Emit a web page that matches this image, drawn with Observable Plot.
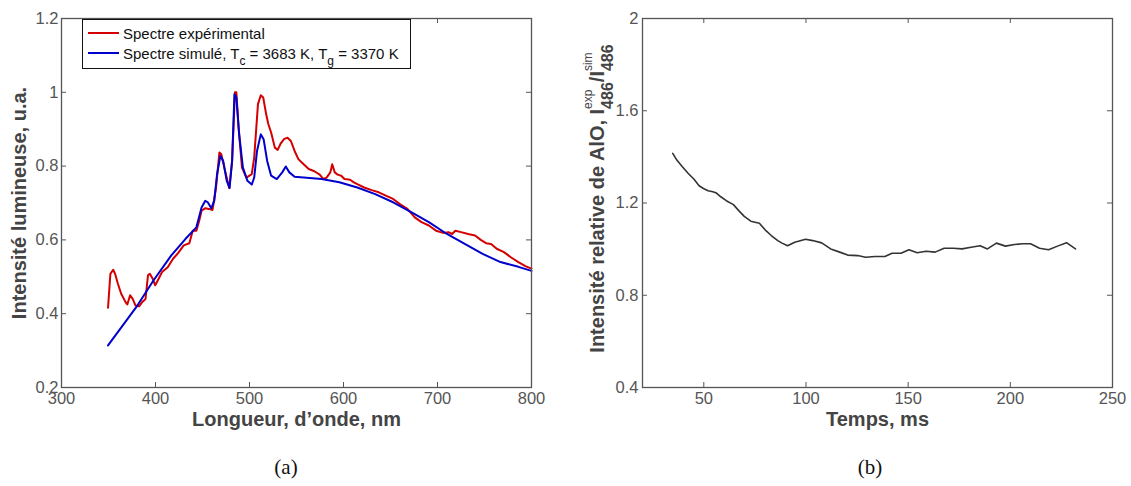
<!DOCTYPE html>
<html>
<head>
<meta charset="utf-8">
<script src="https://cdn.jsdelivr.net/npm/d3@7"></script>
<script src="https://cdn.jsdelivr.net/npm/@observablehq/plot@0.6"></script>
<style>
  html, body { margin: 0; padding: 0; background: #fff; }
  #wrap { position: relative; width: 1131px; height: 486px; background: #fff; overflow: hidden; }
  .panel { position: absolute; top: 0; }
  .cap { position: absolute; top: 455px; font-family: "Liberation Serif", "DejaVu Serif", serif; font-size: 21px; color: #111; transform: translateX(-50%); }
  #legend { position: absolute; left: 82px; top: 19px; width: 327px; height: 48px; border: 1.5px solid #111; background: #fff;
            font-family: "Liberation Sans", Arial, sans-serif; font-size: 15px; color: #111; }
  .lrow { position: absolute; left: 0; height: 20px; display: flex; align-items: center; white-space: nowrap; }
  .lsw { display: inline-block; width: 31px; height: 2px; margin-left: 5px; margin-right: 4px; }
  .lrow sub { font-size: 12px; vertical-align: -6px; line-height: 0; }
</style>
</head>
<body>
<div id="wrap">
  <div id="pa" class="panel" style="left:0px"></div>
  <div id="pb" class="panel" style="left:565px"></div>
  <div id="legend"></div>
  <div class="cap" style="left:286px">(a)</div>
  <div class="cap" style="left:870px">(b)</div>
</div>
<script>
// ---------- Panel (a) data ----------
const expWavelength = [349.5,352,355,357,360,363.5,368,370,373,375.7,378.8,382.6,386,389.4,392,394,397,399.7,402.4,407,413,418.7,424,430,436,439.6,443.5,446.5,449,453,456.8,460.6,464.4,468,470,474,478.5,481.5,484.5,486,488.4,492,496.7,502.4,505,509,512,514.6,517.7,520,523,527,530,532.9,536.7,540.5,544,548,552,557.6,563,569,574.7,578.6,582,586,588,590.7,593.8,597.6,601,607,611,614.7,622,630,637.5,645,652.8,660,668,675.8,683,690.8,698.4,706,711.7,715.5,719,725,732.6,740,746,751.7,757,763,770.7,778,786,793.5,800];
const expIntensity = [0.416,0.508,0.519,0.508,0.481,0.454,0.432,0.425,0.45,0.44,0.422,0.42,0.432,0.44,0.504,0.508,0.495,0.477,0.49,0.513,0.526,0.549,0.564,0.585,0.591,0.625,0.625,0.652,0.679,0.686,0.684,0.681,0.742,0.837,0.832,0.787,0.74,0.814,1.0,1.0,0.905,0.796,0.769,0.778,0.823,0.968,0.992,0.986,0.941,0.914,0.891,0.85,0.844,0.86,0.873,0.877,0.868,0.841,0.819,0.805,0.792,0.786,0.777,0.765,0.769,0.783,0.805,0.783,0.777,0.774,0.765,0.763,0.756,0.751,0.742,0.735,0.729,0.72,0.711,0.697,0.684,0.661,0.648,0.639,0.625,0.619,0.621,0.616,0.625,0.621,0.616,0.612,0.6,0.591,0.589,0.576,0.567,0.553,0.54,0.529,0.522];
const simWavelength = [349.5,380.7,397.8,416.8,432,443.5,449,453,455.6,459.4,462.5,465.5,469,472,475.8,478.8,481.5,484,486,489,493,497.8,502.4,505,508,512,515,518.8,523,529,534.8,538.6,542.4,548,557.6,576.6,595.6,614.7,633.7,652.8,672,690.8,710,729,748,767,786,800];
const simIntensity = [0.314,0.422,0.49,0.558,0.603,0.634,0.688,0.706,0.702,0.686,0.706,0.778,0.828,0.814,0.76,0.741,0.814,0.995,0.986,0.886,0.796,0.76,0.75,0.769,0.841,0.886,0.873,0.814,0.774,0.765,0.783,0.799,0.783,0.771,0.769,0.765,0.756,0.742,0.724,0.702,0.675,0.648,0.616,0.589,0.562,0.54,0.527,0.516];
const seriesNames = ["Spectre expérimental", "Spectre simulé, T<sub>c</sub> = 3683 K, T<sub>g</sub> = 3370 K"];
const seriesColors = ["#d40000", "#0000cc"];
const xTicksA = [300,400,500,600,700,800];
const yTicksA = [0.2,0.4,0.6,0.8,1,1.2];
const xLabelA = "Longueur, d’onde, nm";
const yLabelA = "Intensité lumineuse, u.a.";

// ---------- Panel (b) data ----------
const time = [34.8,36.8,39.3,42.4,45.1,47.7,49.8,52.1,54.4,56.2,58.3,61,64.5,67.1,69.8,73,77.2,80.4,83,86.2,88.3,91,94.5,99.8,103.3,107.7,112.1,116.5,120.4,125.3,129.2,133.8,138.6,142.1,146.5,150.4,154.4,158.8,163.2,167.6,172,176.4,180.8,185.2,188.8,193.2,197.6,202,206,209.9,214.3,218.7,223.1,227.5,231.9];
const ratio = [1.415,1.386,1.359,1.328,1.304,1.275,1.263,1.253,1.249,1.243,1.227,1.21,1.193,1.167,1.142,1.121,1.112,1.08,1.059,1.037,1.026,1.015,1.03,1.043,1.037,1.027,1.001,0.987,0.974,0.972,0.965,0.968,0.968,0.982,0.982,0.997,0.984,0.991,0.987,1.004,1.004,1.001,1.008,1.015,1.001,1.026,1.013,1.02,1.023,1.023,1.004,0.997,1.013,1.028,1.001];
const xTicksB = [50,100,150,200,250];
const yTicksB = [0.4,0.8,1.2,1.6,2];
const xLabelB = "Temps, ms";

// ---------- common styles ----------
const font = "'Liberation Sans', Arial, Helvetica, sans-serif";
const axisColor = "#555";
const labelColor = "#444";
const fmt = d3.format("~g");

function boxTicks(xt, yt, innerW, innerH) {
  const t = 5;
  return [
    Plot.tickX(xt, {x: d => d, insetTop: innerH - t, stroke: axisColor, strokeWidth: 1}),
    Plot.tickX(xt, {x: d => d, insetBottom: innerH - t, stroke: axisColor, strokeWidth: 1}),
    Plot.tickY(yt, {y: d => d, insetRight: innerW - t, stroke: axisColor, strokeWidth: 1}),
    Plot.tickY(yt, {y: d => d, insetLeft: innerW - t, stroke: axisColor, strokeWidth: 1})
  ];
}

// ---------- Panel (a) ----------
const expData = expWavelength.map((w, i) => ({w, v: expIntensity[i]}));
const simData = simWavelength.map((w, i) => ({w, v: simIntensity[i]}));
const A = {width: 565, height: 440, ml: 61, mr: 34, mt: 18, mb: 53};
const aW = A.width - A.ml - A.mr, aH = A.height - A.mt - A.mb;
const plotA = Plot.plot({
  width: A.width, height: A.height,
  marginLeft: A.ml, marginRight: A.mr, marginTop: A.mt, marginBottom: A.mb,
  style: {fontFamily: font, fontSize: "16.5px", color: axisColor, background: "transparent", overflow: "visible"},
  x: {domain: [300, 800]},
  y: {domain: [0.2, 1.2]},
  marks: [
    ...boxTicks(xTicksA, yTicksA, aW, aH),
    Plot.axisX({ticks: xTicksA, tickSize: 0, tickPadding: 5, label: null, fill: axisColor, fontSize: 16.5}),
    Plot.axisY({ticks: yTicksA, tickSize: 0, tickPadding: 3, tickFormat: fmt, label: null, fill: axisColor, fontSize: 16.5}),
    Plot.line(expData, {x: "w", y: "v", stroke: seriesColors[0], strokeWidth: 2}),
    Plot.line(simData, {x: "w", y: "v", stroke: seriesColors[1], strokeWidth: 2}),
    Plot.frame({stroke: axisColor, strokeWidth: 1.3}),
    Plot.text([xLabelA], {text: d => d, frameAnchor: "bottom", dy: 38, fontSize: 20, fontWeight: "bold", fill: labelColor}),
    Plot.text([yLabelA], {text: d => d, frameAnchor: "left", textAnchor: "middle", dx: -42, rotate: -90, fontSize: 20, fontWeight: "bold", fill: labelColor})
  ]
});
document.getElementById("pa").appendChild(plotA);

// legend
const leg = document.getElementById("legend");
seriesNames.forEach((name, i) => {
  const row = document.createElement("div");
  row.className = "lrow";
  row.style.top = (i === 0 ? 3 : 23) + "px";
  row.innerHTML = `<span class="lsw" style="background:${seriesColors[i]}"></span><span>${name}</span>`;
  leg.appendChild(row);
});

// ---------- Panel (b) ----------
const ratioData = time.map((t, i) => ({t, r: ratio[i]}));
const B = {width: 566, height: 440, ml: 77, mr: 19, mt: 18, mb: 53};
const bW = B.width - B.ml - B.mr, bH = B.height - B.mt - B.mb;
const plotB = Plot.plot({
  width: B.width, height: B.height,
  marginLeft: B.ml, marginRight: B.mr, marginTop: B.mt, marginBottom: B.mb,
  style: {fontFamily: font, fontSize: "16.5px", color: axisColor, background: "transparent", overflow: "visible"},
  x: {domain: [20, 250]},
  y: {domain: [0.4, 2]},
  marks: [
    ...boxTicks(xTicksB, yTicksB, bW, bH),
    Plot.axisX({ticks: xTicksB, tickSize: 0, tickPadding: 5, label: null, fill: axisColor, fontSize: 16.5}),
    Plot.axisY({ticks: yTicksB, tickSize: 0, tickPadding: 4, tickFormat: fmt, label: null, fill: axisColor, fontSize: 16.5}),
    Plot.line(ratioData, {x: "t", y: "r", stroke: "#333", strokeWidth: 1.6}),
    Plot.frame({stroke: axisColor, strokeWidth: 1.3}),
    Plot.text([xLabelB], {text: d => d, frameAnchor: "bottom", dy: 38, fontSize: 20, fontWeight: "bold", fill: labelColor})
  ]
});
document.getElementById("pb").appendChild(plotB);

// y label of panel (b) with sub/superscripts
(function () {
  const svg = d3.select(plotB);
  const t = svg.append("text")
    .attr("transform", `translate(${B.ml - 38},${B.mt + bH / 2 - 4}) rotate(-90)`)
    .attr("text-anchor", "middle")
    .attr("font-family", font)
    .attr("font-weight", "bold")
    .attr("font-size", 20)
    .attr("fill", labelColor);
  t.append("tspan").text("Intensité relative de AlO, I");
  const supShift = 12, subShift = 9;
  const sup1 = t.append("tspan").attr("font-size", 12).attr("font-weight", "normal").attr("dy", -supShift).text("exp");
  const w1 = sup1.node().getComputedTextLength();
  t.append("tspan").attr("font-size", 16).attr("dx", -w1).attr("dy", supShift + subShift).text("486");
  t.append("tspan").attr("font-size", 20).attr("dy", -subShift).text("/I");
  const sup2 = t.append("tspan").attr("font-size", 12).attr("font-weight", "normal").attr("dy", -supShift).text("sim");
  const w2 = sup2.node().getComputedTextLength();
  t.append("tspan").attr("font-size", 16).attr("dx", -w2).attr("dy", supShift + subShift).text("486");
})();
</script>
</body>
</html>
